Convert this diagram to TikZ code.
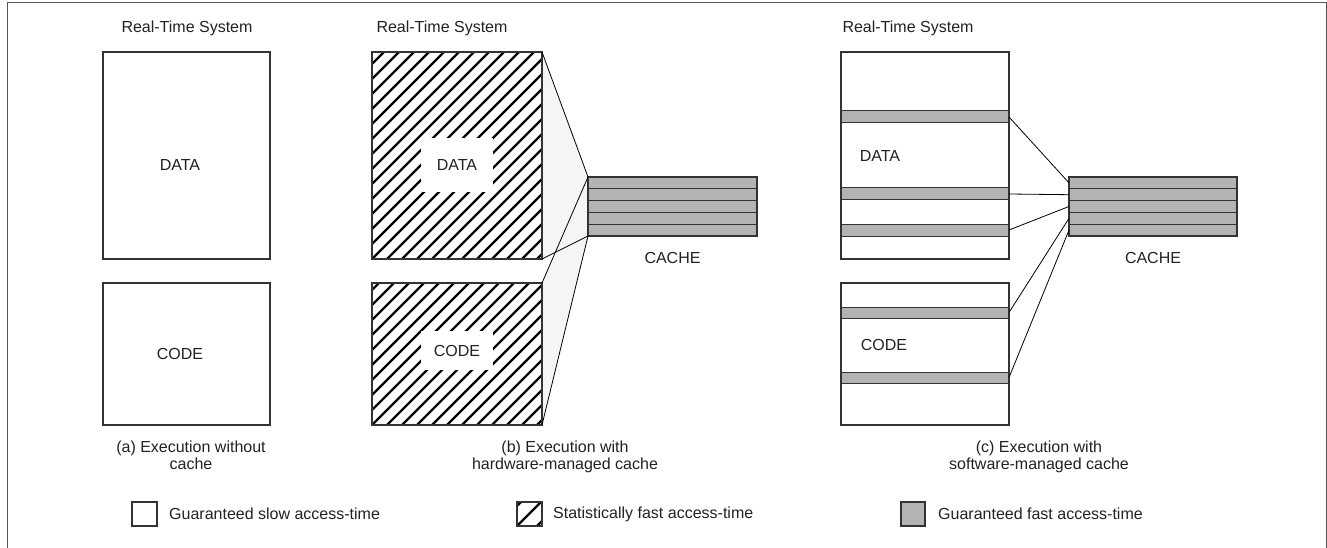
\documentclass[tikz,border=0pt]{standalone}
\usepackage{fontspec}
\setmainfont{Liberation Sans}
\usetikzlibrary{backgrounds}
\definecolor{edge}{HTML}{333333}
\definecolor{cachefill}{HTML}{B3B3B3}
\definecolor{fan}{HTML}{F5F5F5}
\definecolor{txt}{HTML}{222222}
\definecolor{frame}{HTML}{555555}
\begin{document}
\begin{tikzpicture}[x=1pt,y=-1pt,
  font=\fontsize{16}{17}\selectfont,
  lbl/.style={text=txt, inner sep=0pt, align=center},
  box/.style={draw=edge, line width=1.2pt, fill=white, inner sep=0pt, outer sep=0pt},
  hatch/.style={path picture={
    \foreach \k in {-15,...,15}{
      \draw[line width=2.4pt, draw=black]
        ([xshift=\k*#1]path picture bounding box.south west) -- ++(260pt,260pt);}}},
  stripe/.style={draw=edge, line width=1pt, fill=cachefill, inner sep=0pt, outer sep=0pt, minimum width=168pt},
  crow/.style={draw=edge, line width=1.2pt, fill=cachefill, inner sep=0pt, outer sep=0pt, minimum height=11.8pt},
  conn/.style={draw=black, line width=0.8pt},
  hole/.style={fill=white, inner sep=0pt, text=txt}
]
\useasboundingbox (0,0) rectangle (1327,548);
\draw[draw=frame, line width=1pt] (7,3) rectangle (1326,549);

% ---------- panel (a)
\node[lbl] (aTitle) at (187,28) {Real-Time System};
\node[box, minimum width=167pt, minimum height=207pt] (aData) at (186.5,155.5) {};
\node[lbl] (aDataL) at (180,165) {DATA};
\node[box, minimum width=167pt, minimum height=142pt] (aCode) at (186.5,354) {};
\node[lbl] (aCodeL) at (180,354) {CODE};
\node[lbl] (aCap) at (191,455.5) {(a) Execution without\\cache};

% ---------- panel (b)
\node[lbl] (bTitle) at (442,28) {Real-Time System};
\node[box, hatch=15pt, minimum width=170pt, minimum height=207pt] (bData) at (457,155.5) {};
\node[hole, minimum width=72pt, minimum height=54pt] (bDataL) at (457,165) {DATA};
\node[box, hatch=15pt, minimum width=170pt, minimum height=142pt] (bCode) at (457,354) {};
\node[hole, minimum width=72pt, minimum height=39pt] (bCodeL) at (457,350.5) {CODE};
\foreach \i in {1,...,5}
  \node[crow, minimum width=169pt] (bR\i) at (672.5,{177+11.8*(\i-0.5)}) {};
\node[lbl] (bCacheL) at (672.5,258) {CACHE};
\begin{scope}[on background layer]
  \fill[fan] (bData.north east) -- (bR1.north west) -- (bR5.south west) -- (bData.south east) -- cycle;
  \fill[fan] (bCode.north east) -- (bR1.north west) -- (bR5.south west) -- (bCode.south east) -- cycle;
\end{scope}
\draw[conn] (bData.north east) -- (bR1.north west);
\draw[conn] (bData.south east) -- (bR5.south west);
\draw[conn] (bCode.north east) -- (bR1.north west);
\draw[conn] (bCode.south east) -- (bR5.south west);
\node[lbl] (bCap) at (565,457) {(b) Execution with\\hardware-managed cache};

% ---------- panel (c)
\node[lbl] (cTitle) at (908,28) {Real-Time System};
\node[box, minimum width=168pt, minimum height=207pt] (cData) at (925,155.5) {};
\node[stripe, minimum height=12pt] (s1) at (925,117) {};
\node[stripe, minimum height=12pt] (s2) at (925,194) {};
\node[stripe, minimum height=12pt] (s3) at (925,230) {};
\node[lbl] (cDataL) at (880,155.5) {DATA};
\node[box, minimum width=168pt, minimum height=142pt] (cCode) at (925,354) {};
\node[stripe, minimum height=11pt] (s4) at (925,312.5) {};
\node[stripe, minimum height=11pt] (s5) at (925,377.5) {};
\node[lbl] (cCodeL) at (884,345) {CODE};
\draw[draw=edge, line width=1.2pt] (cData.north west) rectangle (cData.south east);
\draw[draw=edge, line width=1.2pt] (cCode.north west) rectangle (cCode.south east);
\foreach \i in {1,...,5}
  \node[crow, minimum width=168pt] (cR\i) at (1153,{177+11.8*(\i-0.5)}) {};
\node[lbl] (cCacheL) at (1153,258) {CACHE};
\foreach \i in {1,...,5}
  \draw[conn] (s\i.east) -- (cR\i.west);
\node[lbl] (cCap) at (1039,457) {(c) Execution with\\software-managed cache};

% ---------- legend
\node[box, minimum width=25pt, minimum height=24pt] (lg1) at (144.5,514) {};
\node[lbl, anchor=west] (lg1t) at (169,514) {Guaranteed slow access-time};
\node[box, hatch=20pt, minimum width=25pt, minimum height=24pt] (lg2) at (529.5,514) {};
\node[lbl, anchor=west] (lg2t) at (553,514) {Statistically fast access-time};
\node[box, fill=cachefill, minimum width=24pt, minimum height=24pt] (lg3) at (913,514) {};
\node[lbl, anchor=west] (lg3t) at (938,514) {Guaranteed fast access-time};
\end{tikzpicture}
\end{document}
